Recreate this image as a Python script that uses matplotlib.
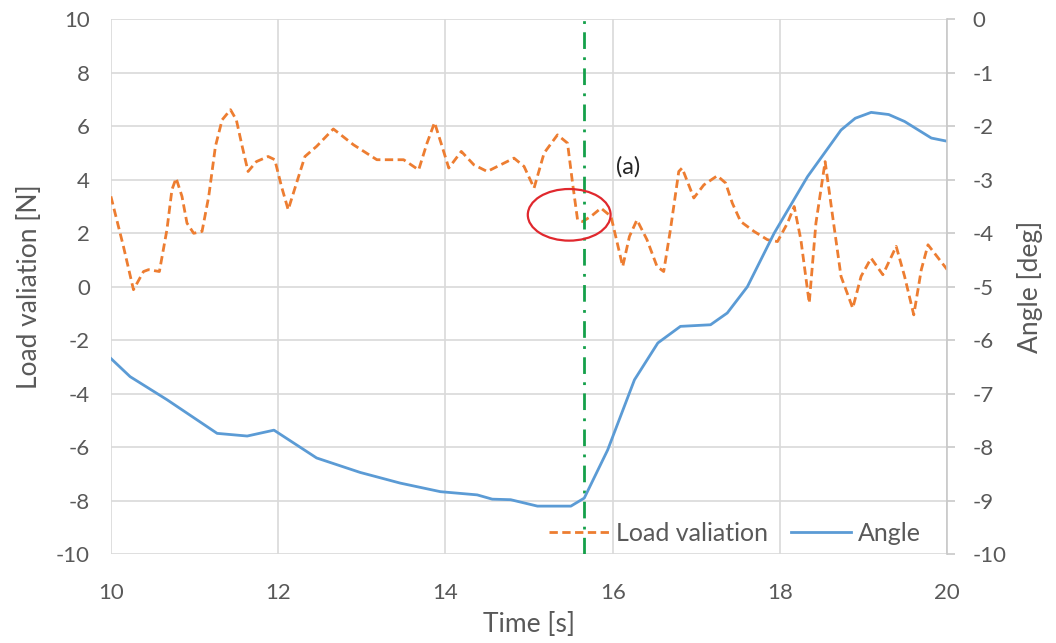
import matplotlib.pyplot as plt
from matplotlib.patches import Ellipse

plt.rcParams['font.family'] = ['Lato', 'DejaVu Sans']
plt.rcParams['axes.unicode_minus'] = False

# Load variation [N] against time [s]
load_time = [10.0, 10.15, 10.27, 10.39, 10.45, 10.58, 10.67, 10.73, 10.78, 10.85, 10.91,
             10.99, 11.09, 11.17, 11.25, 11.33, 11.43, 11.5, 11.57, 11.64, 11.74, 11.88,
             11.96, 12.04, 12.12, 12.22, 12.32, 12.46, 12.66, 12.9, 13.18, 13.5, 13.68,
             13.78, 13.87, 13.96, 14.04, 14.19, 14.34, 14.5, 14.82, 14.94, 15.06, 15.18,
             15.34, 15.46, 15.52, 15.58, 15.64, 15.74, 15.86, 15.98, 16.12, 16.2, 16.29,
             16.41, 16.53, 16.61, 16.69, 16.79, 16.83, 16.97, 17.09, 17.25, 17.35, 17.43,
             17.53, 17.69, 17.85, 17.97, 18.09, 18.17, 18.25, 18.35, 18.43, 18.54, 18.63,
             18.73, 18.87, 18.97, 19.09, 19.23, 19.39, 19.49, 19.6, 19.69, 19.77, 20.0]
load_value = [3.38, 1.51, -0.11, 0.57, 0.64, 0.57, 2.13, 3.63, 4.06, 3.38, 2.38,
              2.0, 2.07, 3.38, 5.25, 6.24, 6.62, 6.24, 5.25, 4.31, 4.68, 4.87,
              4.75, 3.75, 2.88, 3.88, 4.87, 5.25, 5.9, 5.31, 4.75, 4.75, 4.37,
              5.37, 6.14, 5.25, 4.44, 5.06, 4.56, 4.31, 4.81, 4.5, 3.69, 5.0,
              5.68, 5.37, 3.88, 2.5, 2.44, 2.63, 2.94, 2.63, 0.76, 1.88, 2.5,
              1.76, 0.76, 0.57, 2.13, 4.31, 4.44, 3.32, 3.81, 4.15, 3.88, 3.13,
              2.44, 2.07, 1.76, 1.69, 2.38, 3.0, 1.76, -0.61, 2.38, 4.68, 2.63,
              0.39, -0.8, 0.39, 1.07, 0.45, 1.51, 0.39, -1.05, 0.64, 1.57, 0.64]

# Angle [deg] against time [s]
angle_time = [10.0, 10.23, 10.67, 11.27, 11.63, 11.95, 12.46, 12.98, 13.46, 13.94, 14.38,
              14.56, 14.78, 15.1, 15.5, 15.66, 15.94, 16.26, 16.54, 16.81, 17.17, 17.37,
              17.61, 17.93, 18.33, 18.73, 18.9, 19.09, 19.3, 19.49, 19.81, 20.0]
angle_value = [-6.34, -6.68, -7.11, -7.74, -7.79, -7.68, -8.2, -8.47, -8.67, -8.83, -8.89,
               -8.97, -8.98, -9.1, -9.1, -8.95, -8.05, -6.74, -6.05, -5.74, -5.71, -5.49,
               -5.0, -4.0, -2.94, -2.07, -1.85, -1.74, -1.78, -1.91, -2.22, -2.28]

event_time = 15.66

text_gray = '#595959'
grid_gray = '#d9d9d9'

fig, ax1 = plt.subplots(figsize=(10.56, 6.43), dpi=100)
fig.subplots_adjust(left=0.105, right=0.897, bottom=0.138, top=0.97)
ax2 = ax1.twinx()

ax1.plot(load_time, load_value, color='#ED7D31', linestyle=(0, (3, 1.6)), linewidth=2,
         dash_joinstyle='round', label='Load valiation')
ax2.plot(angle_time, angle_value, color='#5B9BD5', linewidth=2, solid_joinstyle='round',
         label='Angle')

ax1.axvline(event_time, color='#14A04A', linestyle=(0, (6, 3, 1, 3)), linewidth=2, zorder=5)
ax1.add_patch(Ellipse((15.48, 2.69), 0.99, 1.93, fill=False, edgecolor='#E0282E',
                      linewidth=1.6, zorder=6))
ax1.text(16.19, 4.5, '(a)', fontsize=17, color='#262626', ha='center', va='center')

ax1.set_xlim(10, 20)
ax1.set_ylim(-10, 10)
ax2.set_ylim(-10, 0)
ax1.set_xticks(range(10, 21, 2))
ax1.set_yticks(range(-10, 11, 2))
ax2.set_yticks(range(-10, 1, 1))

ax1.grid(True, color=grid_gray, linewidth=1.2)
ax1.set_axisbelow(True)
for ax in (ax1, ax2):
    for s in ax.spines.values():
        s.set_visible(False)
ax2.spines['right'].set_visible(True)
ax2.spines['right'].set_color('#c8c8c8')
ax2.spines['right'].set_linewidth(1.2)

ax1.tick_params(axis='y', length=0, labelsize=16, labelcolor=text_gray, pad=15)
ax1.tick_params(axis='x', length=0, labelsize=16, labelcolor=text_gray, pad=21)
ax2.tick_params(axis='y', length=6, width=1.2, color='#c8c8c8', labelsize=16,
                labelcolor=text_gray, pad=12)

ax1.set_xlabel('Time [s]', fontsize=19, color=text_gray, labelpad=6)
ax1.set_ylabel('Load valiation [N]', fontsize=19, color=text_gray, labelpad=10)
ax2.set_ylabel('Angle [deg]', fontsize=19, color=text_gray, labelpad=8)

h1, l1 = ax1.get_legend_handles_labels()
h2, l2 = ax2.get_legend_handles_labels()
leg = ax2.legend(h1 + h2, l1 + l2, loc='lower right', ncol=2, frameon=False, fontsize=18,
                 handlelength=2.4, columnspacing=0.9, handletextpad=0.28,
                 bbox_to_anchor=(0.995, -0.025))
for t in leg.get_texts():
    t.set_color(text_gray)

fig.savefig('out.png', dpi=100)
